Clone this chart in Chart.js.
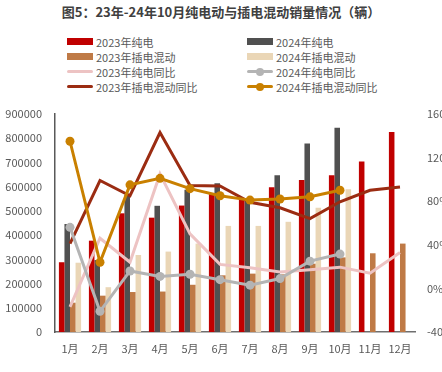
<!DOCTYPE html>
<html>
<head>
<meta charset="utf-8">
<script src="https://cdn.jsdelivr.net/npm/chart.js@4/dist/chart.umd.min.js"></script>
<style>
    html, body { margin: 0; padding: 0; background: #fff; }
    #wrap { position: relative; width: 442px; height: 372px; overflow: hidden; font-family: 'Noto Sans CJK SC', 'Noto Sans', sans-serif; }
    #title { position: absolute; left: 0; top: 2px; width: 442px; text-align: center; font-size: 13px; font-weight: bold; color: #404040; }
    #legend { position: absolute; left: 67px; top: 34px; width: 370px; }
    .item { position: absolute; height: 15px; display: flex; align-items: center; font-size: 11px; color: #595959; white-space: nowrap; }
    .mark { position: relative; width: 26px; height: 15px; margin-right: 3px; }
    canvas { position: absolute; left: 0; top: 0; }
</style>
</head>
<body>
<div id="wrap">
    <div id="title">图5：23年-24年10月纯电动与插电混动销量情况（辆）</div>
    <div id="legend"></div>
    <canvas id="c" width="442" height="372"></canvas>
</div>
<script>
    // categories
    const months = ['1月', '2月', '3月', '4月', '5月', '6月', '7月', '8月', '9月', '10月', '11月', '12月'];

    // sales (辆)
    const bev2023 = [288000, 377000, 490000, 472000, 522000, 570000, 545000, 598000, 628000, 647000, 704000, 826000];
    const bev2024 = [446000, 297000, 566000, 521000, 587000, 614000, 548000, 647000, 778000, 843000, null, null];
    const phev2023 = [121000, 150000, 165000, 167000, 195000, 234000, 241000, 238000, 282000, 308000, 325000, 365000];
    const phev2024 = [286000, 185000, 318000, 332000, 365000, 438000, 438000, 455000, 513000, 589000, null, null];

    // year-on-year (%)
    const bevYoy2023 = [-17, 46, 24, 105, 50, 22, 19, 15, 17, 19.5, 14, 33];
    const bevYoy2024 = [56, -21, 16, 11, 13, 8, 3, 9, 25, 31.5, null, null];
    const phevYoy2023 = [41, 99, 85, 143, 94.5, 94, 79, 74, 64, 79.5, 90, 93];
    const phevYoy2024 = [135, 24, 95, 101, 91.5, 85, 81, 82, 84, 90, null, null];

    // axis ticks
    const leftTicks = [0, 100000, 200000, 300000, 400000, 500000, 600000, 700000, 800000, 900000];
    const rightTicks = [-40, 0, 40, 80, 120, 160];

    const tickColor = '#595959';
    const tickFont = { family: "'Noto Sans CJK SC', 'Noto Sans', sans-serif", size: 11 };

    const bar = (label, data, color) => ({
        type: 'bar', label, data, yAxisID: 'y', order: 10,
        backgroundColor: color, borderWidth: 0,
        categoryPercentage: 0.74, barPercentage: 1.0,
    });

    const line = (label, data, color, dots, order) => ({
        type: 'line', label, data, yAxisID: 'y1', order,
        borderColor: color, backgroundColor: color, borderWidth: 3,
        pointRadius: dots ? 4.5 : 0, pointHoverRadius: dots ? 4.5 : 0,
        pointBorderWidth: 0, tension: 0, spanGaps: false,
    });

    const datasets = [
        bar('2023年纯电', bev2023, '#C00000'),
        bar('2024年纯电', bev2024, '#505050'),
        bar('2023年插电混动', phev2023, '#BF7A46'),
        bar('2024年插电混动', phev2024, '#EAD6B6'),
        line('2023年纯电同比', bevYoy2023, '#EDC3C3', false, 4),
        line('2024年纯电同比', bevYoy2024, '#B4B4B4', true, 2),
        line('2023年插电混动同比', phevYoy2023, '#9B2C12', false, 3),
        line('2024年插电混动同比', phevYoy2024, '#C98000', true, 1),
    ];

    new Chart(document.getElementById('c'), {
        data: { labels: months, datasets },
        options: {
            responsive: false,
            animation: false,
            layout: { padding: { top: 114, left: 0, right: 0, bottom: 0 } },
            plugins: { legend: { display: false }, tooltip: { enabled: false } },
            scales: {
                x: {
                    grid: { display: false, drawTicks: false },
                    border: { display: true, color: '#6F6F6F', width: 1.5 },
                    ticks: { color: tickColor, font: tickFont, padding: 10, maxRotation: 0, autoSkip: false },
                    afterFit: (s) => { s.height = 40; },
                },
                y: {
                    position: 'left',
                    min: 0, max: 900000,
                    afterBuildTicks: (s) => { s.ticks = leftTicks.map((v) => ({ value: v })); },
                    grid: { display: false, drawTicks: false },
                    border: { display: true, color: '#595959', width: 1.5 },
                    ticks: { color: tickColor, font: tickFont, padding: 13, callback: (v) => String(v) },
                    afterFit: (s) => { s.width = 55; },
                },
                y1: {
                    position: 'right',
                    min: -40, max: 160,
                    afterBuildTicks: (s) => { s.ticks = rightTicks.map((v) => ({ value: v })); },
                    grid: { display: false, drawTicks: false },
                    border: { display: false },
                    ticks: { color: tickColor, font: tickFont, padding: 12, callback: (v) => v + '%' },
                    afterFit: (s) => { s.width = 27; },
                },
            },
        },
    });

    // two-column legend, row-major like the source
    const legend = document.getElementById('legend');
    datasets.forEach((ds, i) => {
        const item = document.createElement('div');
        item.className = 'item';
        item.style.left = (i % 2 ? 180 : 0) + 'px';
        item.style.top = (Math.floor(i / 2) * 15) + 'px';
        const mark = document.createElement('div');
        mark.className = 'mark';
        if (ds.type === 'bar') {
            mark.innerHTML = `<div style="position:absolute;left:0;top:4px;width:26px;height:7px;background:${ds.backgroundColor}"></div>`;
        } else {
            mark.innerHTML = `<div style="position:absolute;left:0;top:6px;width:26px;height:3px;border-radius:2px;background:${ds.borderColor}"></div>`
                + (ds.pointRadius ? `<div style="position:absolute;left:9px;top:3.5px;width:8px;height:8px;border-radius:50%;background:${ds.borderColor}"></div>` : '');
        }
        item.appendChild(mark);
        item.appendChild(document.createTextNode(ds.label));
        legend.appendChild(item);
    });
</script>
</body>
</html>
